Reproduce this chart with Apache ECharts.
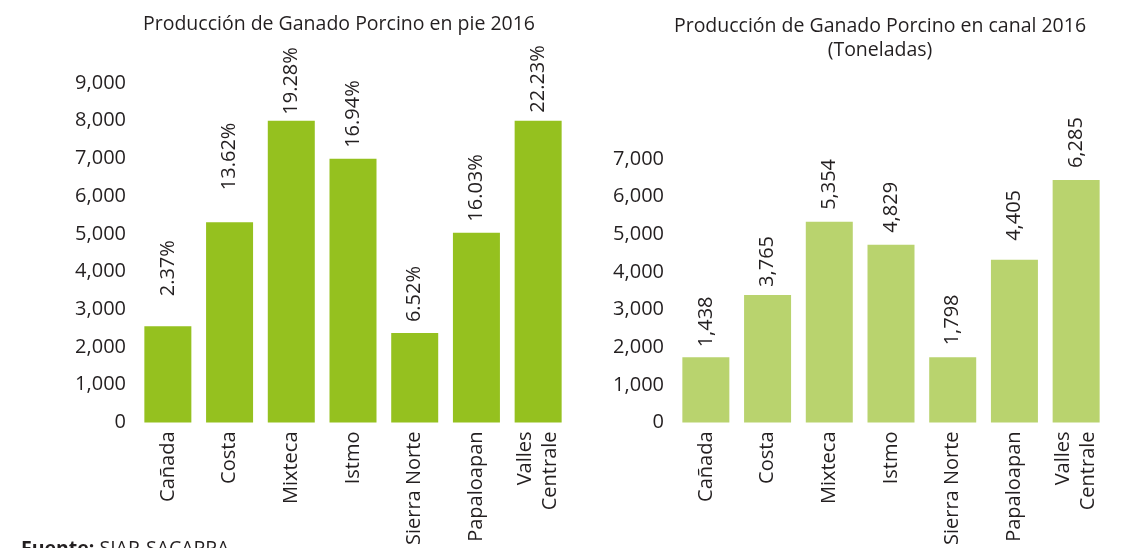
<!DOCTYPE html>
<html lang="es">

<head>
    <meta charset="UTF-8">
    <title>Producción de Ganado Porcino 2016</title>
    <style>
        * {
            margin: 0;
            padding: 0;
        }

        body {
            background: #fff;
        }
    </style>
    <script src="https://cdn.jsdelivr.net/npm/echarts@6/dist/echarts.min.js"></script>
</head>

<body>
    <div id="echart" style="width: 1121px;height: 548px;"></div>
    <script>
        // datos
        var regiones = ['Cañada', 'Costa', 'Mixteca', 'Istmo', 'Sierra Norte', 'Papaloapan', 'Valles\nCentrale']
        var piePorcentajes = ['2.37%', '13.62%', '19.28%', '16.94%', '6.52%', '16.03%', '22.23%']
        var pieBarras = [2550, 5310, 8000, 6990, 2370, 5030, 8000]
        var canalEtiquetas = ['1,438', '3,765', '5,354', '4,829', '1,798', '4,405', '6,285']
        var canalBarras = [1730, 3390, 5330, 4720, 1730, 4320, 6440]
        var pieMax = 9000
        var canalMax = 7000
        var pasoEje = 1000

        // separacion de cada etiqueta respecto a su barra (estilo)
        var pieSeparacion = [30, 32, 6, 11, 11, 11, 8]
        var canalSeparacion = [10, 8, 12, 12, 12, 19, 12]

        var fuente = 'Open Sans'
        var texto = '#231f20'

        function armarDatos(valores, separacion) {
            return valores.map((v, i) => ({
                value: v,
                label: { distance: separacion[i] }
            }))
        }

        function ejeX(grid) {
            return {
                type: 'category',
                gridIndex: grid,
                data: regiones,
                axisLine: { show: false },
                axisTick: { show: false },
                axisLabel: {
                    rotate: 90,
                    margin: 9,
                    interval: 0,
                    fontFamily: fuente,
                    fontSize: 20,
                    lineHeight: 25,
                    color: texto
                }
            }
        }

        function ejeY(grid, max) {
            return {
                type: 'value',
                gridIndex: grid,
                min: 0,
                max: max,
                interval: pasoEje,
                splitLine: { show: false },
                axisLine: { show: false },
                axisTick: { show: false },
                axisLabel: {
                    margin: 11,
                    fontFamily: fuente,
                    fontSize: 20,
                    color: texto,
                    formatter: (v) => v.toLocaleString('en-US')
                }
            }
        }

        function etiquetaBarra(textos) {
            return {
                show: true,
                position: 'top',
                rotate: 90,
                align: 'left',
                verticalAlign: 'middle',
                fontFamily: fuente,
                fontSize: 20,
                color: texto,
                formatter: (p) => textos[p.dataIndex]
            }
        }

        var echart = echarts.init(document.getElementById('echart'))
        var option = {
            animation: false,
            title: [{
                text: 'Producción de Ganado Porcino en pie 2016',
                left: 334,
                top: 9,
                textAlign: 'center',
                textStyle: { fontFamily: fuente, fontSize: 19.5, fontWeight: 'normal', color: texto }
            }, {
                text: 'Producción de Ganado Porcino en canal 2016\n(Toneladas)',
                left: 875,
                top: 9,
                textAlign: 'center',
                textStyle: { fontFamily: fuente, fontSize: 19.5, fontWeight: 'normal', color: texto, lineHeight: 24 }
            }],
            grid: [
                { left: 137, right: 552, top: 83, bottom: 125 },
                { left: 675, right: 14, top: 159, bottom: 125 }
            ],
            xAxis: [ejeX(0), ejeX(1)],
            yAxis: [ejeY(0, pieMax), ejeY(1, canalMax)],
            series: [{
                name: 'en pie',
                type: 'bar',
                xAxisIndex: 0,
                yAxisIndex: 0,
                barWidth: 47,
                itemStyle: { color: '#95c11f' },
                label: etiquetaBarra(piePorcentajes),
                data: armarDatos(pieBarras, pieSeparacion)
            }, {
                name: 'en canal',
                type: 'bar',
                xAxisIndex: 1,
                yAxisIndex: 1,
                barWidth: 47,
                itemStyle: { color: '#b9d36e' },
                label: etiquetaBarra(canalEtiquetas),
                data: armarDatos(canalBarras, canalSeparacion)
            }],
            graphic: [{
                type: 'text',
                left: 21,
                top: 539,
                style: {
                    text: '{b|Fuente:} SIAP-SACAPPA',
                    fontFamily: fuente,
                    fontSize: 19.5,
                    fill: texto,
                    rich: {
                        b: { fontFamily: fuente, fontSize: 19.5, fontWeight: 'bold', fill: texto }
                    }
                }
            }]
        }
        echart.setOption(option)
    </script>
</body>

</html>
